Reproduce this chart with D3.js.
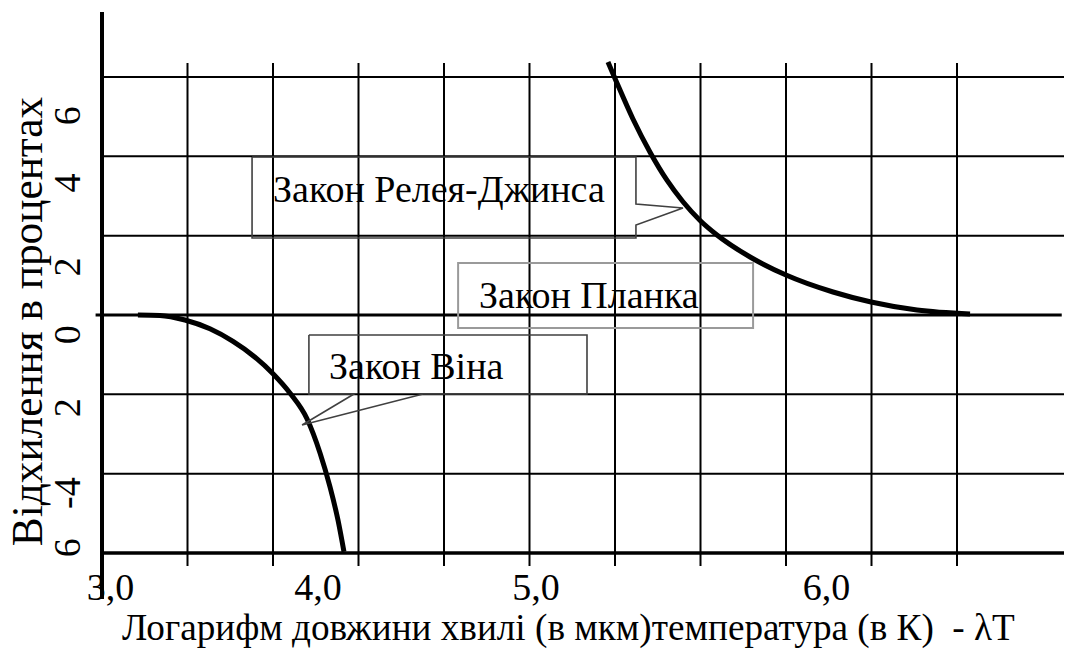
<!DOCTYPE html>
<html><head><meta charset="utf-8"><script src="https://cdn.jsdelivr.net/npm/d3@7"></script></head>
<body style="margin:0">
<svg id="s" width="1065" height="651"></svg>
<script>
// ---- data ----
const gridX = [3.0, 3.4, 3.8, 4.2, 4.6, 5.0, 5.4, 5.8, 6.2, 6.6, 7.0];
const gridY = [-6, -4, -2, 0, 2, 4, 6];
const xTickLabels = ["3,0", "4,0", "5,0", "6,0"];
const xTickLabelPos = [3.04, 4.01, 5.03, 6.39];
const yTickLabels = ["6", "4", "2", "0", "2", "-4", "6"];
const yTickLabelPos = [5.02, 3.33, 1.21, -0.50, -2.34, -4.49, -5.87];

const wienX = [3.168, 3.271, 3.388, 3.505, 3.613, 3.716, 3.800, 3.880, 3.959, 4.020, 4.067, 4.104, 4.132];
const wienY = [0, -0.01, -0.126, -0.348, -0.666, -1.064, -1.482, -1.974, -2.617, -3.48, -4.34, -5.17, -5.97];

const rjX = [5.367, 5.409, 5.484, 5.564, 5.643, 5.718, 5.798, 5.877, 6.032, 6.200, 6.420, 6.598, 6.813, 7.061];
const rjY = [6.378, 5.849, 4.941, 4.104, 3.398, 2.854, 2.382, 2.017, 1.462, 1.008, 0.580, 0.328, 0.126, 0.025];

const xTitle = "Логарифм довжини хвилі (в мкм)температура (в К)\u00A0 - λT";
const yTitle = "Відхилення в процентах";
const labelRJ = "Закон Релея-Джинса";
const labelPlanck = "Закон Планка";
const labelWien = "Закон Віна";

// ---- scales ----
const x = d3.scaleLinear().domain([3.0, 7.0]).range([102, 957]);
const y = d3.scaleLinear().domain([-6, 6]).range([553, 77]);

const svg = d3.select("#s");
const xEnd = x.invert(1064);

svg.append("rect").attr("width", 1065).attr("height", 651).attr("fill", "#fff");

// vertical grid lines (extend below axis as ticks)
svg.append("g").selectAll("line").data(gridX.slice(1)).join("line")
  .attr("x1", d => x(d)).attr("x2", d => x(d))
  .attr("y1", y(6.35)).attr("y2", y(-6.33))
  .attr("stroke", "#000").attr("stroke-width", 2);

// horizontal grid lines
svg.append("g").selectAll("line").data(gridY.filter(v => v !== 0 && v !== -6)).join("line")
  .attr("x1", x(3.0)).attr("x2", x(xEnd))
  .attr("y1", d => y(d)).attr("y2", d => y(d))
  .attr("stroke", "#000").attr("stroke-width", 2);

// zero line (Planck)
svg.append("line")
  .attr("x1", x(2.97)).attr("x2", x(7.49))
  .attr("y1", y(0)).attr("y2", y(0))
  .attr("stroke", "#000").attr("stroke-width", 3.2);

// x axis
svg.append("line")
  .attr("x1", x(3.0)).attr("x2", x(xEnd))
  .attr("y1", y(-6)).attr("y2", y(-6))
  .attr("stroke", "#000").attr("stroke-width", 3.5);

// y axis
svg.append("line")
  .attr("x1", x(3.0)).attr("x2", x(3.0))
  .attr("y1", y(7.64)).attr("y2", y(-7.16))
  .attr("stroke", "#000").attr("stroke-width", 4);

// curves
const line = d3.line().x(d => x(d[0])).y(d => y(d[1])).curve(d3.curveMonotoneX);
svg.append("path").datum(wienX.map((v, i) => [v, wienY[i]]))
  .attr("d", line).attr("fill", "none").attr("stroke", "#000").attr("stroke-width", 5);
svg.append("path").datum(rjX.map((v, i) => [v, rjY[i]]))
  .attr("d", line).attr("fill", "none").attr("stroke", "#000").attr("stroke-width", 5);

// callout boxes
const poly = d3.line().x(d => x(d[0])).y(d => y(d[1]));
svg.append("path").datum([
  [3.702, 3.983], [5.498, 3.983], [5.498, 2.798], [5.718, 2.697], [5.498, 2.269],
  [5.498, 1.941], [3.702, 1.941], [3.702, 3.983]
]).attr("d", poly).attr("fill", "none").attr("stroke", "#404040").attr("stroke-width", 1.6);
svg.append("rect")
  .attr("x", x(4.666)).attr("y", y(1.311))
  .attr("width", x(6.046) - x(4.666)).attr("height", y(-0.328) - y(1.311))
  .attr("fill", "none").attr("stroke", "#9a9a9a").attr("stroke-width", 2);
svg.append("path").datum([
  [3.968, -0.504], [5.269, -0.504], [5.269, -1.992], [4.502, -1.992], [3.936, -2.773],
  [4.179, -1.992], [3.968, -1.992], [3.968, -0.504]
]).attr("d", poly).attr("fill", "none").attr("stroke", "#404040").attr("stroke-width", 1.6);

svg.append("text").attr("font-family", "Liberation Serif").attr("font-size", 38)
  .attr("x", x(3.800)).attr("y", y(2.849)).text(labelRJ);
svg.append("text").attr("font-family", "Liberation Serif").attr("font-size", 38)
  .attr("x", x(4.764)).attr("y", y(0.176)).text(labelPlanck);
svg.append("text").attr("font-family", "Liberation Serif").attr("font-size", 38)
  .attr("x", x(4.062)).attr("y", y(-1.613)).text(labelWien);

// x tick labels
xTickLabels.forEach((d, i) => {
  svg.append("text").attr("font-family", "Liberation Serif").attr("font-size", 38)
    .attr("x", x(xTickLabelPos[i])).attr("y", 600).attr("text-anchor", "middle").text(d);
});

// y tick labels (rotated)
yTickLabels.forEach((d, i) => {
  svg.append("text").attr("font-family", "Liberation Serif").attr("font-size", 38)
    .attr("transform", `translate(80,${y(yTickLabelPos[i])}) rotate(-90)`)
    .attr("text-anchor", "middle").text(d);
});

// axis titles
svg.append("text").attr("font-family", "Liberation Serif").attr("font-size", 37.2)
  .attr("x", 122).attr("y", 640).text(xTitle);
svg.append("text").attr("font-family", "Liberation Serif").attr("font-size", 43.3)
  .attr("transform", "translate(42,321.5) rotate(-90)")
  .attr("text-anchor", "middle").text(yTitle);
</script></body></html>
